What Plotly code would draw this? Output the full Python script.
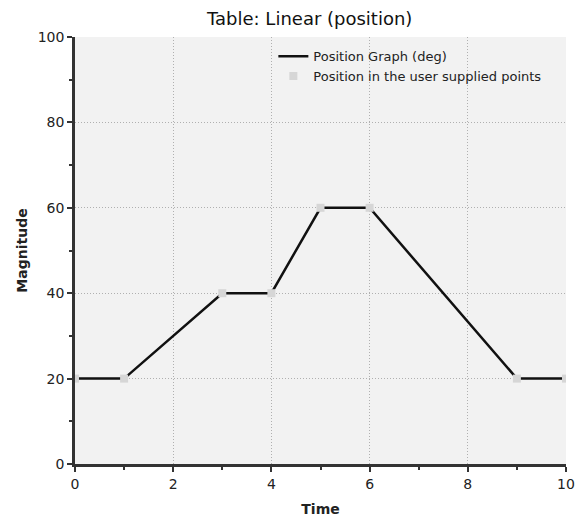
import plotly.graph_objects as go

time = [0, 1, 3, 4, 5, 6, 9, 10]
position = [20, 20, 40, 40, 60, 60, 20, 20]
x_ticks = [0, 2, 4, 6, 8, 10]
y_ticks = [0, 20, 40, 60, 80, 100]

fig = go.Figure()
fig.add_trace(go.Scatter(x=time, y=position, mode="lines", name="Position Graph (deg)",
                         line=dict(color="#111111", width=2.5)))
fig.add_trace(go.Scatter(x=time, y=position, mode="markers", name="Position in the user supplied points",
                         marker=dict(symbol="square", size=8, color="#d6d6d6")))

fig.update_layout(
    width=587, height=519,
    margin=dict(l=67, r=29, t=29, b=61),
    paper_bgcolor="white", plot_bgcolor="#f2f2f2",
    font=dict(family="DejaVu Sans", size=13, color="#222222"),
    title=dict(text="Table: Linear (position)", x=0.514, xanchor="center", y=0.98, yanchor="middle",
               font=dict(size=18, color="#111111")),
    legend=dict(x=0.404, y=0.99, xanchor="left", yanchor="top", bgcolor="rgba(0,0,0,0)",
                font=dict(size=13), tracegroupgap=0, itemwidth=30),
    showlegend=True,
)
fig.update_xaxes(range=[0, 10], tickvals=x_ticks, showline=True, linecolor="#333333", linewidth=2.5,
                 ticks="outside", ticklen=5, tickwidth=2, tickcolor="#333333",
                 minor=dict(dtick=1, ticks="outside", ticklen=3, tickwidth=2, tickcolor="#333333", showgrid=False),
                 showgrid=True, gridcolor="#b0b0b0", griddash="1px,2px", gridwidth=1, zeroline=False,
                 title=dict(text="<b>Time</b>", font=dict(size=14), standoff=14), tickfont=dict(size=14))
fig.update_yaxes(range=[0, 100], tickvals=y_ticks, showline=True, linecolor="#333333", linewidth=2.5,
                 ticks="outside", ticklen=5, tickwidth=2, tickcolor="#333333",
                 minor=dict(dtick=10, ticks="outside", ticklen=3, tickwidth=2, tickcolor="#333333", showgrid=False),
                 showgrid=True, gridcolor="#b0b0b0", griddash="1px,2px", gridwidth=1, zeroline=False,
                 title=dict(text="<b>Magnitude</b>", font=dict(size=14), standoff=7), tickfont=dict(size=14))

fig.write_html("out.html")
